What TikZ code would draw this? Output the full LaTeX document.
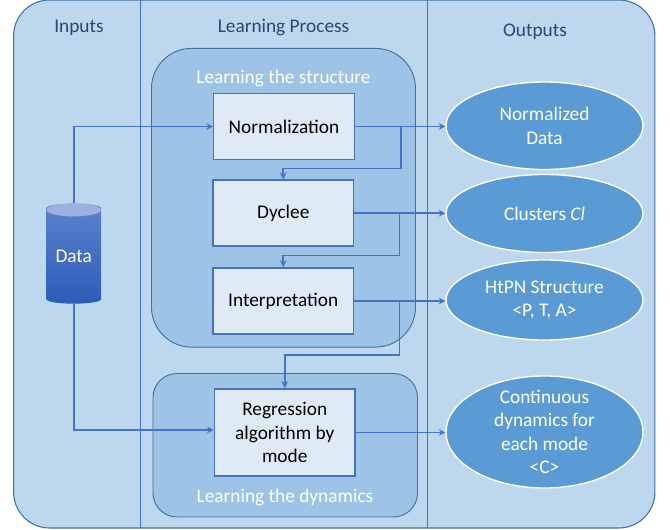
\documentclass[tikz,border=0pt]{standalone}
\usepackage{fontspec}
\setmainfont{Carlito}
\usetikzlibrary{calc,arrows,shapes.geometric}

\definecolor{panelblue}{HTML}{BDD7EE}
\definecolor{groupblue}{HTML}{9DC3E6}
\definecolor{boxblue}{HTML}{DEEBF7}
\definecolor{ovalblue}{HTML}{5B9BD5}
\definecolor{lineblue}{HTML}{4472C4}
\definecolor{edgeblue}{HTML}{41719C}
\definecolor{headblue}{HTML}{2A4674}
\definecolor{capblue}{HTML}{9DB0DF}
\definecolor{drumtop}{HTML}{5C82CC}
\definecolor{drumbottom}{HTML}{2D5CB8}

\begin{document}
\begin{tikzpicture}
      [
        x=.75pt, y=-.75pt,
        arrowstyle/.style={draw=lineblue, line width=1.2pt, -stealth},
        branchstyle/.style={draw=lineblue, line width=1.35pt, -stealth},
        groupstyle/.style={draw=edgeblue, fill=groupblue, line width=.7pt, inner sep=0},
        boxstyle/.style={draw=lineblue, fill=boxblue, line width=1.2pt, inner sep=0,
          minimum width=105.5pt, minimum height=49.5pt, align=center,
          font=\fontsize{14.5}{17.5}\selectfont},
        ovalstyle/.style={ellipse, draw=white, fill=ovalblue, line width=1pt, inner sep=-12pt,
          minimum width=147.75pt, text=white, align=center,
          font=\fontsize{14.5}{17.5}\selectfont},
        headstyle/.style={text=headblue, font=\fontsize{14.5}{17.5}\selectfont},
        grouptext/.style={text=white, font=\fontsize{14.5}{17.5}\selectfont}
      ]

      \useasboundingbox (0,0) rectangle (670,530);

      \node[draw=edgeblue, fill=panelblue, line width=.8pt, inner sep=0, rounded corners=27pt,
        minimum width=481pt, minimum height=396pt] (panel) at (334.25,264) {};
      \draw[lineblue, line width=.7pt] (140.5,0) -- (140.5,528);
      \draw[lineblue, line width=.7pt] (427.5,0) -- (427.5,528);

      \node[headstyle] (inputs) at (79,28) {Inputs};
      \node[headstyle] (process) at (283.5,28) {Learning Process};
      \node[headstyle] (outputs) at (535,32) {Outputs};

      \node[groupstyle, rounded corners=30pt, minimum width=198pt, minimum height=224pt]
        (structure) at (283.5,197.75) {};
      \node[groupstyle, rounded corners=18pt, minimum width=198.4pt, minimum height=107.6pt]
        (dynamics) at (285.25,445.25) {};
      \node[grouptext] (structuretext) at (283.5,78) {Learning the structure};
      \node[grouptext] (dynamicstext) at (285,497) {Learning the dynamics};

      \node[boxstyle] (norm) at (284,126.5) {Normalization};
      \node[boxstyle] (dyclee) at (283.25,213.25) {Dyclee};
      \node[boxstyle] (interp) at (283.25,301) {Interpretation};
      \node[boxstyle, minimum height=65.25pt] (regr) at (284.75,432.5)
        {Regression\\algorithm by\\mode};

      \node[ovalstyle, minimum height=65.6pt] (outnorm) at (544.5,125.75) {Normalized\\Data};
      \node[ovalstyle, minimum height=58.5pt] (outclusters) at (544.5,213.5) {Clusters \textit{Cl}};
      \node[ovalstyle, minimum height=60pt] (outhtpn) at (544.5,300) {HtPN Structure\\<P, T, A>};
      \node[ovalstyle, minimum height=84pt] (outcont) at (544.5,432)
        {Continuous\\dynamics for\\each mode\\<C>};

      \node[cylinder, shape border rotate=90, shape aspect=.24, inner sep=0,
        minimum width=41pt, minimum height=75pt, text=white,
        top color=drumtop, bottom color=drumbottom,
        font=\fontsize{14.5}{17.5}\selectfont] (data) at (73.75,256) {\raisebox{-2pt}{Data}};
      \fill[capblue] ($(data.north)+(0,6.5)$) ellipse [x radius=27.25, y radius=6.5];

      \draw[arrowstyle] (data.north) |- (norm.west);
      \draw[arrowstyle] (data.south) |- ([yshift=1.9pt]regr.west);

      \draw[arrowstyle] (norm.east) -- (norm.east -| outnorm.west);
      \draw[arrowstyle] (dyclee.east) -- (dyclee.east -| outclusters.west);
      \draw[arrowstyle] (interp.east) -- (interp.east -| outhtpn.west);
      \draw[arrowstyle] (regr.east) -- (regr.east -| outcont.west);

      \coordinate (bendnorm) at (401,126.5);
      \coordinate (benddyclee) at (399.5,213.25);
      \coordinate (bendinterp) at (399.5,301);
      \draw[branchstyle] (bendnorm) -- ++(0,42) -| (dyclee.north);
      \draw[branchstyle] (benddyclee) -- ++(0,42.25) -| (interp.north);
      \draw[branchstyle] (bendinterp) -- ++(0,54) -| (regr.north);

    \end{tikzpicture}
\end{document}
